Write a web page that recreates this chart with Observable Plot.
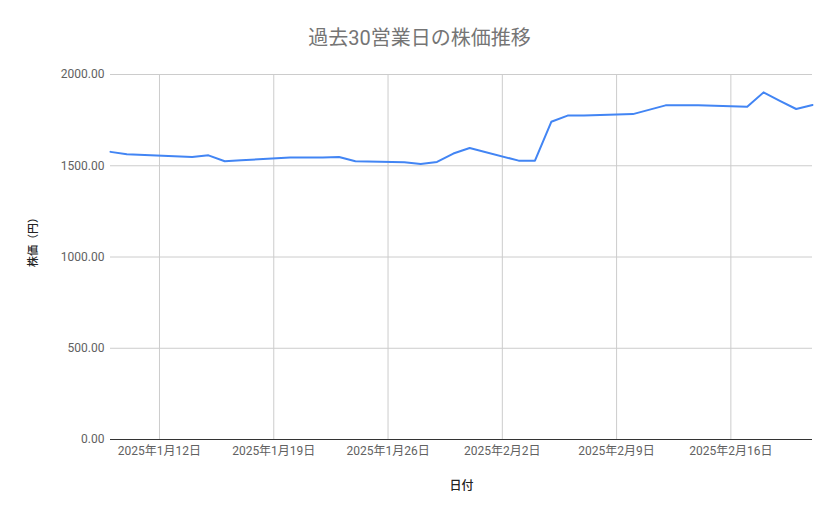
<!DOCTYPE html>
<html>
<head>
<meta charset="utf-8">
<script src="https://cdn.jsdelivr.net/npm/d3@7"></script>
<script src="https://cdn.jsdelivr.net/npm/@observablehq/plot@0.6"></script>
<style>
  body { margin: 0; background: #fff; font-family: Roboto, "Noto Sans CJK JP", sans-serif; }
  #wrap { width: 839px; }
  #title { height: 60px; box-sizing: border-box; padding-top: 27px; text-align: center;
           font-size: 20px; line-height: 22px; color: #757575; font-family: Roboto, "Noto Sans CJK JP", sans-serif; }
</style>
</head>
<body>
<div id="wrap">
  <div id="title">過去30営業日の株価推移</div>
  <div id="chart"></div>
</div>
<script>
const dates = [
  "2025-01-09","2025-01-10","2025-01-14","2025-01-15","2025-01-16","2025-01-17",
  "2025-01-20","2025-01-21","2025-01-22","2025-01-23","2025-01-24",
  "2025-01-27","2025-01-28","2025-01-29","2025-01-30","2025-01-31",
  "2025-02-03","2025-02-04","2025-02-05","2025-02-06","2025-02-07",
  "2025-02-10","2025-02-12","2025-02-13","2025-02-14",
  "2025-02-17","2025-02-18","2025-02-19","2025-02-20","2025-02-21"
];
const prices = [
  1576, 1563, 1548, 1557, 1525, 1530,
  1545, 1545, 1545, 1548, 1525,
  1519, 1510, 1521, 1567, 1597,
  1528, 1528, 1741, 1775, 1776,
  1783, 1831, 1831, 1832,
  1823, 1902, 1856, 1811, 1833
];
const xTicks = ["2025-01-12","2025-01-19","2025-01-26","2025-02-02","2025-02-09","2025-02-16"];
const yTicks = [0, 500, 1000, 1500, 2000];
const titleText = "過去30営業日の株価推移";
const xLabel = "日付";
const yLabel = "株価（円）";

const parse = d3.utcParse("%Y-%m-%d");
const data = dates.map((d, i) => ({date: parse(d), price: prices[i]}));
const tickDates = xTicks.map(parse);
const fmtDate = d => `${d.getUTCFullYear()}年${d.getUTCMonth() + 1}月${d.getUTCDate()}日`;
const font = 'Roboto, "Noto Sans CJK JP", sans-serif';

const chart = Plot.plot({
  width: 839,
  height: 459,
  marginTop: 14,
  marginBottom: 80,
  marginLeft: 110,
  marginRight: 27,
  style: {fontFamily: font, fontSize: "12px", color: "#616161", background: "#fff"},
  x: {type: "utc", domain: [data[0].date, data[data.length - 1].date]},
  y: {domain: [0, 2000]},
  marks: [
    Plot.gridY(yTicks, {stroke: "#cccccc", strokeOpacity: 1, strokeWidth: 1}),
    Plot.gridX(tickDates, {stroke: "#cccccc", strokeOpacity: 1, strokeWidth: 1}),
    Plot.axisY(yTicks, {tickSize: 0, tickPadding: 6, tickFormat: d => d.toFixed(2), label: null, fill: "#616161"}),
    Plot.axisX(tickDates, {tickSize: 0, tickPadding: 7, tickFormat: fmtDate, label: null, fill: "#616161"}),
    Plot.ruleY([0], {stroke: "#333333", strokeWidth: 1}),
    Plot.line(data, {x: "date", y: "price", stroke: "#4285f4", strokeWidth: 2, curve: "linear"}),
    Plot.text([xLabel], {frameAnchor: "bottom", dy: 50, text: d => d, fill: "#222", fontSize: 12, fontWeight: 500}),
    Plot.text([yLabel], {frameAnchor: "left", dx: -77, dy: 10, rotate: -90, text: d => d, fill: "#222", fontSize: 11, fontWeight: 500})
  ]
});
document.getElementById("chart").appendChild(chart);
</script>
</body>
</html>
